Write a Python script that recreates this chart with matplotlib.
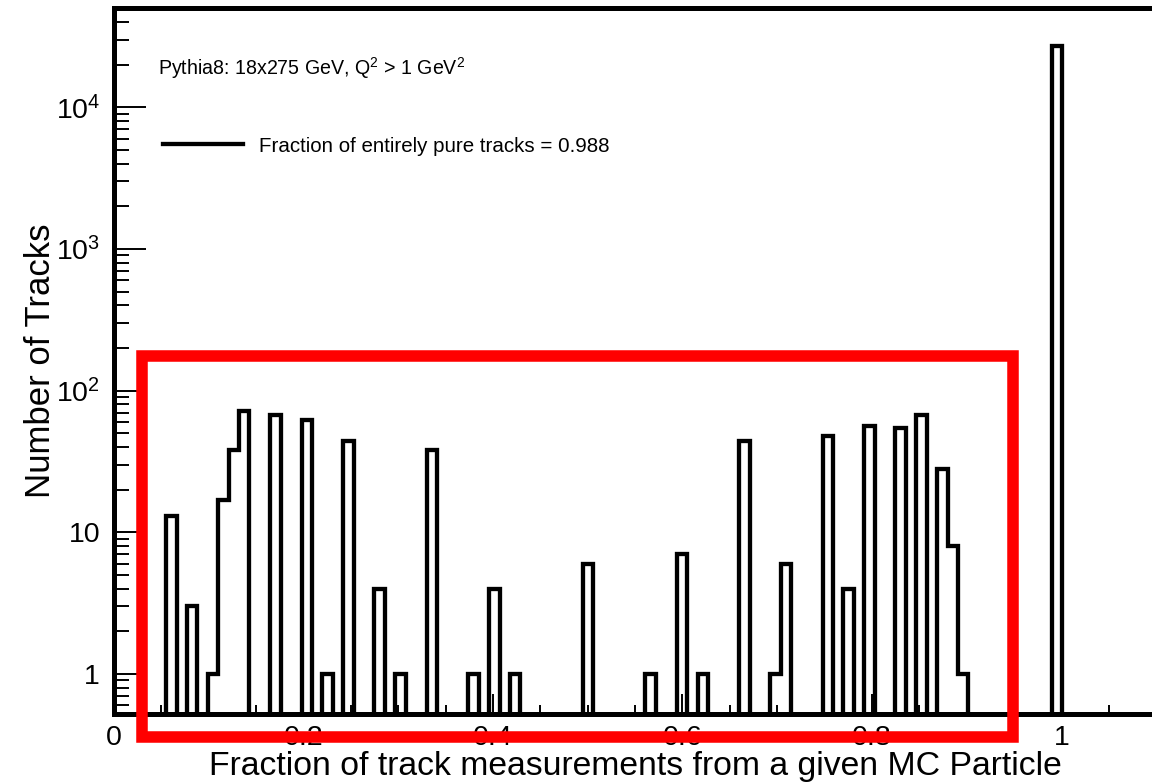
import numpy as np
import matplotlib
matplotlib.use("Agg")
import matplotlib.pyplot as plt
from matplotlib.lines import Line2D
from matplotlib.patches import Rectangle
from matplotlib.ticker import LogLocator, MultipleLocator, NullFormatter

# histogram binning: 100 bins over [0, 1.1]
n_bins = 100
x_range = (0.0, 1.1)

# occupied bins and their track counts (all other bins are empty)
filled_bins = [5, 7, 9, 10, 11, 12, 15, 18, 20, 22, 25, 27, 30, 34, 36, 38,
               45, 51, 54, 56, 60, 63, 64, 68, 70, 72, 75, 77, 79, 80, 81, 90]
track_counts = [13, 3, 1, 17, 38, 72, 67, 62, 1, 44, 4, 1, 38, 1, 4, 1,
                6, 1, 7, 1, 44, 1, 6, 48, 4, 56, 54, 67, 28, 8, 1, 27000]
pure_fraction = 0.988

x_ticks = [0.0, 0.2, 0.4, 0.6, 0.8, 1.0]
x_tick_labels = ["0", "0.2", "0.4", "0.6", "0.8", "1"]
y_ticks = [1, 10, 100, 1000, 10000]
y_tick_labels = ["1", "10", "$10^{2}$", "$10^{3}$", "$10^{4}$"]

edges = np.linspace(x_range[0], x_range[1], n_bins + 1)
counts = np.zeros(n_bins)
counts[filled_bins] = track_counts

plt.rcParams["font.family"] = ["Liberation Sans", "DejaVu Sans"]
plt.rcParams["mathtext.fontset"] = "custom"
plt.rcParams["mathtext.rm"] = "Liberation Sans"
plt.rcParams["mathtext.default"] = "regular"

W, H = 1152, 784
fig = plt.figure(figsize=(W / 100, H / 100), dpi=100)
ax = fig.add_axes([114 / W, 70 / H, 1042 / W, 705.6 / H])

# empty bins are pushed below the visible range so the outline runs along the axis
floor = 0.1
ax.stairs(np.where(counts > 0, counts, floor), edges, baseline=floor,
          color="black", linewidth=3.1)

ax.set_yscale("log")
ax.set_xticks(x_ticks, x_tick_labels)
ax.xaxis.set_minor_locator(MultipleLocator(0.05))
ax.set_yticks(y_ticks, y_tick_labels)
ax.yaxis.set_minor_locator(LogLocator(base=10, subs=np.arange(2, 10)))
ax.yaxis.set_minor_formatter(NullFormatter())
ax.set_xlim(x_range)
ax.set_ylim(0.52, 5e4)

ax.tick_params(axis="x", which="major", direction="in", length=14.4, width=1.4,
               pad=8, labelsize=20.5)
ax.tick_params(axis="x", which="minor", direction="in", length=6.5, width=1.4)
ax.tick_params(axis="y", which="major", direction="in", length=22.8, width=1.4,
               pad=10, labelsize=20.5)
ax.tick_params(axis="y", which="minor", direction="in", length=10.8, width=1.4)
for s in ax.spines.values():
    s.set_linewidth(3.6)

ax.set_xlabel("Fraction of track measurements from a given MC Particle", fontsize=24.3)
ax.xaxis.set_label_coords(0.5, -61 / 705.6)
ax.xaxis.label.set_va("baseline")
ax.set_ylabel("Number of Tracks", fontsize=25)
ax.yaxis.set_label_coords(-64 / 1042, 0.5)
ax.yaxis.label.set_va("baseline")

fig.text(158 / W, 1 - 75 / H, r"Pythia8: 18x275 GeV, $Q^{2}$ > 1 GeV$^{2}$",
         fontsize=14.1, ha="left", va="baseline")

handle = Line2D([], [], color="black", linewidth=3.1)
ax.legend([handle], [f"Fraction of entirely pure tracks = {pure_fraction}"],
          loc="center left", bbox_to_anchor=(163 / W, 1 - 146 / H),
          bbox_transform=fig.transFigure, frameon=False, fontsize=14.8,
          handlelength=3.89, handletextpad=0.78, borderpad=0, borderaxespad=0)

# highlight box around the impure-track region
box = Rectangle((142 / W, 1 - 737 / H), (1013 - 142) / W, (737 - 356) / H,
                transform=fig.transFigure, fill=False, edgecolor="#ff0000",
                linewidth=8.3, joinstyle="miter", zorder=10)
fig.add_artist(box)

fig.savefig("out.png", dpi=100)
